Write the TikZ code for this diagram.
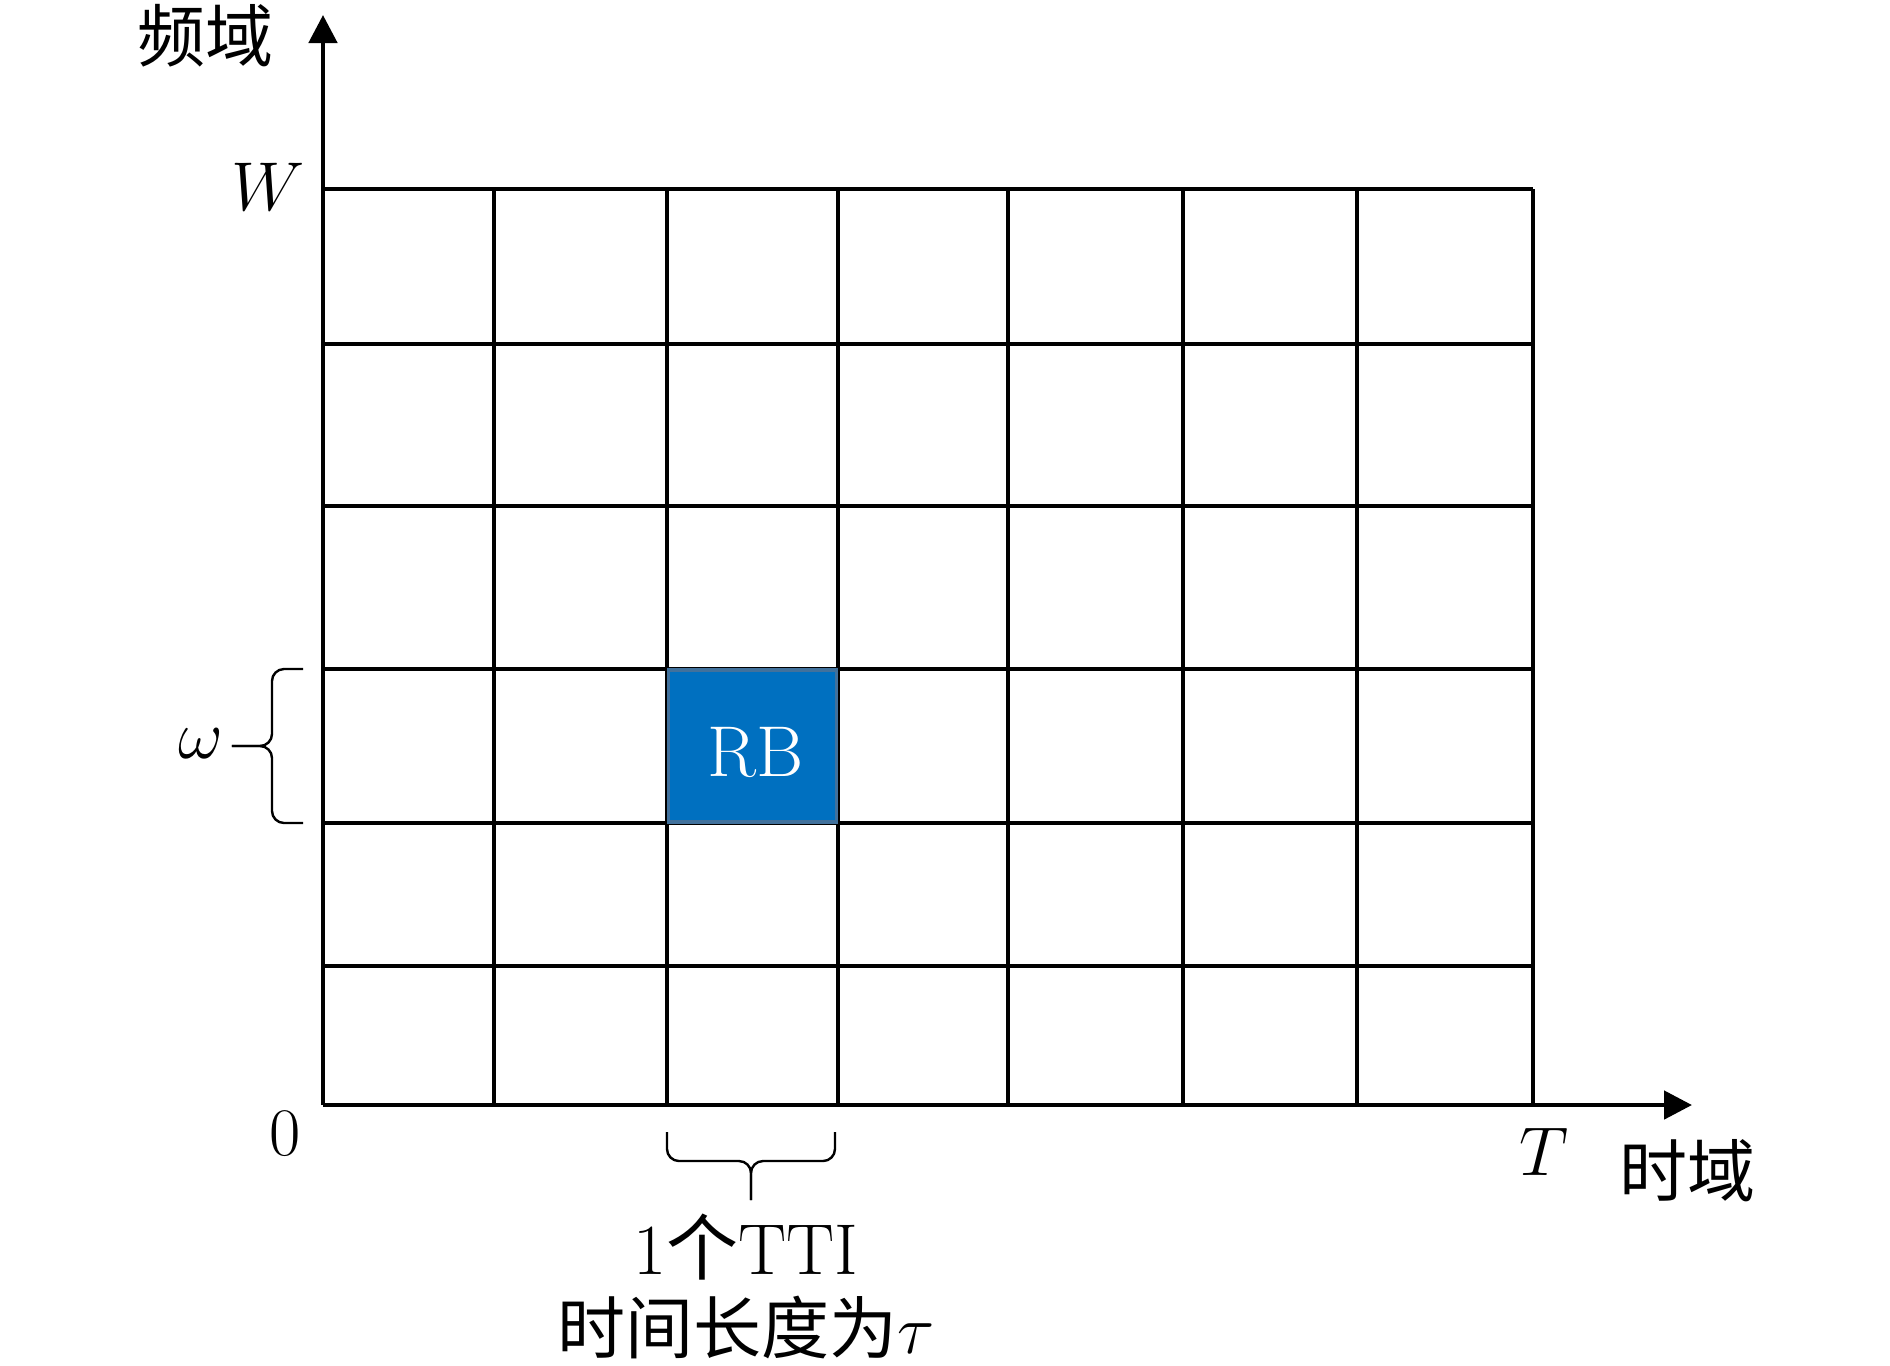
\documentclass[tikz,border=0pt]{standalone}
\usepackage{fontspec}
\newfontfamily\cjk{Noto Sans CJK SC}
\usetikzlibrary{arrows.meta}
\definecolor{rbblue}{RGB}{0,112,192}
\definecolor{rbedge}{RGB}{65,113,156}
\tikzset{
  grid line/.style={line width=1.1pt},
  axis line/.style={
    line width=1.2pt,
    -{Triangle[length=7pt,width=7pt]},
  },
  brace line/.style={line width=0.6pt, rounded corners=3pt},
  label/.style={
    font=\fontsize{17pt}{20pt}\selectfont,
    inner sep=0pt,
  },
  rb box/.style={
    fill=rbblue,
    draw=rbedge,
    line width=0.8pt,
    minimum width={42pt},
    minimum height={38pt},
    text=white,
    font=\fontsize{18pt}{20pt}\selectfont,
  }
}

\begin{document}
\begin{tikzpicture}[x=0.25pt, y=0.25pt]
        \useasboundingbox (-323,-260) rectangle (1567,1105);

        % grid
        \foreach \x in {171,344,515,685,860,1034,1210}
          \draw [grid line] (\x,0) -- (\x,916);
        \foreach \y in {139,282,436,599,761,916}
          \draw [grid line] (0,\y) -- (1210,\y);

        \node [rb box] (rb) at (429.5,359) {};
        \node [label, text=white, font=\fontsize{18pt}{20pt}\selectfont] (rbtext) at (433,353) {RB};

        % axes
        \coordinate (o) at (0,0);
        \coordinate (tend) at (1369,0);
        \coordinate (fend) at (0,1090);
        \draw [axis line] (o) -- (tend);
        \draw [axis line] (o) -- (fend);

        \node [label] (flabel) at (-117,1069) {\cjk 频域};
        \node [label] (tlabel) at (1364,-66) {\cjk 时域};
        \node [label] (wmax) at (-55,918) {$W$};
        \node [label] (zero) at (-38,-29) {0};
        \node [label] (tmax) at (1221,-47) {$T$};

        % braces
        \coordinate (wtop) at (-20,436);
        \coordinate (wbot) at (-20,282);
        \coordinate (wtip) at (-91,359);
        \draw [brace line] (wtop) -- (-51,436) -- (-51,359) -- (wtip);
        \draw [brace line] (wbot) -- (-51,282) -- (-51,359) -- (wtip);
        \node [label, anchor=east] (omega) at (-99,361) {$\omega$};

        \coordinate (tleft) at (344,-27);
        \coordinate (tright) at (512,-27);
        \coordinate (ttip) at (428,-95);
        \draw [brace line] (tleft) -- (344,-56) -- (428,-56) -- (ttip);
        \draw [brace line] (tright) -- (512,-56) -- (428,-56) -- (ttip);
        \node [label, font=\fontsize{18pt}{20pt}\selectfont] (tti) at (423,-142) {1{\cjk 个}TTI};
        \node [label] (tau) at (423,-222) {{\cjk 时间长度为}$\tau$};
      \end{tikzpicture}
\end{document}
